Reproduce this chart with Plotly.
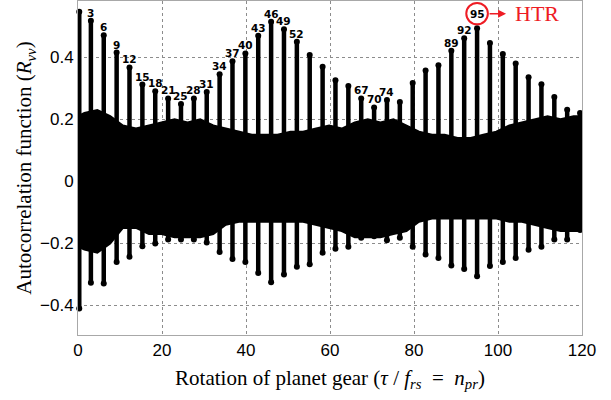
import plotly.graph_objects as go

# ---- data ----
peak_x = [0.3, 3.07, 6.13, 9.2, 12.26, 15.33, 18.39, 21.46, 24.52, 27.59,
          30.65, 33.72, 36.78, 39.85, 42.91, 45.98, 49.04, 52.11, 55.17, 58.24,
          61.3, 64.37, 67.43, 70.5, 73.56, 76.63, 79.69, 82.76, 85.82, 88.89,
          91.95, 95.02, 98.08, 101.15, 104.21, 107.28, 110.34, 113.41, 116.47, 119.54]
peak_hi = [0.546, 0.517, 0.471, 0.415, 0.367, 0.312, 0.29, 0.267, 0.249, 0.267,
           0.288, 0.345, 0.387, 0.412, 0.469, 0.514, 0.49, 0.45, 0.407, 0.369,
           0.326, 0.307, 0.267, 0.238, 0.262, 0.256, 0.317, 0.357, 0.374, 0.421,
           0.461, 0.493, 0.446, 0.41, 0.38, 0.335, 0.313, 0.272, 0.231, 0.22]
peak_lo = [-0.41, -0.327, -0.329, -0.26, -0.243, -0.209, -0.2, -0.187, -0.187, -0.187,
           -0.197, -0.228, -0.25, -0.26, -0.295, -0.325, -0.3, -0.275, -0.267, -0.23,
           -0.217, -0.211, -0.182, -0.177, -0.19, -0.182, -0.211, -0.236, -0.247, -0.271,
           -0.282, -0.306, -0.273, -0.26, -0.247, -0.22, -0.211, -0.187, -0.187, -0.157]

band_x = [0.0, 1.53, 4.6, 7.66, 10.7, 13.8, 16.9, 19.9, 23.0, 26.1, 29.1, 32.2,
          35.2, 38.3, 41.4, 44.4, 47.5, 50.6, 53.6, 56.7, 59.8, 62.8, 65.9, 69.0,
          72.0, 75.1, 78.2, 81.2, 84.3, 87.3, 90.4, 93.5, 96.5, 99.6, 102.7, 105.7,
          108.8, 111.8, 114.9, 118.0, 120.0]
band_hi = [0.21, 0.22, 0.23, 0.21, 0.18, 0.17, 0.18, 0.19, 0.2, 0.19, 0.2, 0.18,
           0.17, 0.16, 0.15, 0.15, 0.15, 0.16, 0.16, 0.17, 0.18, 0.17, 0.19, 0.2,
           0.19, 0.2, 0.18, 0.16, 0.15, 0.15, 0.14, 0.14, 0.15, 0.16, 0.18, 0.19,
           0.2, 0.21, 0.2, 0.21, 0.21]
band_lo = [-0.21, -0.22, -0.23, -0.2, -0.15, -0.15, -0.17, -0.17, -0.18, -0.18, -0.18, -0.17,
           -0.14, -0.13, -0.13, -0.13, -0.13, -0.13, -0.13, -0.14, -0.15, -0.16, -0.18, -0.18,
           -0.18, -0.17, -0.16, -0.13, -0.12, -0.12, -0.12, -0.12, -0.12, -0.12, -0.13, -0.13,
           -0.14, -0.15, -0.16, -0.16, -0.16]

label_vals = [3, 6, 9, 12, 15, 18, 21, 25, 28, 31, 34, 37, 40, 43, 46, 49, 52,
              67, 70, 74, 89, 92, 95]
highlight_val = 95
highlight_text = "HTR"

x_ticks = [0, 20, 40, 60, 80, 100, 120]
y_ticks = [-0.4, -0.2, 0, 0.2, 0.4]
y_tick_text = ["\u22120.4", "\u22120.2", "0", "0.2", "0.4"]

# ---- figure ----
fig = go.Figure()

fig.add_trace(go.Scatter(
    x=band_x + band_x[::-1], y=band_hi + band_lo[::-1],
    fill="toself", fillcolor="black", mode="lines",
    line=dict(color="black", width=2), hoverinfo="skip", showlegend=False))

sx, sy = [], []
for xi, lo, hi in zip(peak_x, peak_lo, peak_hi):
    sx += [xi, xi, None]
    sy += [lo, hi, None]
fig.add_trace(go.Scatter(x=sx, y=sy, mode="lines",
                         line=dict(color="black", width=4.5),
                         hoverinfo="skip", showlegend=False))
fig.add_trace(go.Scatter(x=peak_x + peak_x, y=peak_hi + peak_lo, mode="markers",
                         marker=dict(color="black", size=6),
                         cliponaxis=False, hoverinfo="skip", showlegend=False))

lab_font = dict(family="DejaVu Sans", size=10.5, color="black", weight="bold")
ann = []
for v in label_vals:
    k = min(range(len(peak_x)), key=lambda i: abs(peak_x[i] - v))
    if v == highlight_val:
        hk = k
        ann.append(dict(x=peak_x[k], y=peak_hi[k], text=str(v), showarrow=False,
                        xanchor="center", yanchor="middle", yshift=14.5,
                        borderpad=0, font=lab_font))
    else:
        ann.append(dict(x=peak_x[k], y=peak_hi[k], text=str(v), showarrow=False,
                        xanchor="center", yanchor="bottom", yshift=1.0,
                        borderpad=0, font=lab_font))

red = "#ee1c24"
fig.add_shape(type="circle", xref="x", yref="y", xsizemode="pixel", ysizemode="pixel",
              xanchor=peak_x[hk], yanchor=peak_hi[hk], x0=-10.8, x1=10.8, y0=4.0, y1=25.4,
              line=dict(color=red, width=2))
ann.append(dict(x=peak_x[hk] + 6.9, y=peak_hi[hk], yshift=14.5, ax=-18, ay=0, text="",
                showarrow=True, arrowhead=2, arrowsize=1, arrowwidth=1.6, arrowcolor=red))
ann.append(dict(x=peak_x[hk] + 14.2, y=peak_hi[hk], yshift=14.5, text=highlight_text,
                showarrow=False, xanchor="center", yanchor="middle",
                font=dict(family="Liberation Serif", size=22, color=red)))

axis_common = dict(showline=True, linecolor="#a8a8a8", linewidth=1, mirror=True,
                   showgrid=True, gridcolor="#8c8c8c", griddash="dot", gridwidth=1,
                   zeroline=False, ticks="",
                   tickfont=dict(family="Liberation Sans", size=17, color="black"))

nb = "\u00a0"
xtitle = ("Rotation of planet gear (<i>τ</i>" + nb + "/" + nb + "<i>f</i><sub><i>rs</i></sub>"
          + nb + nb + "=" + nb + nb + "<i>n</i><sub><i>pr</i></sub>)")
ytitle = "Autocorrelation function (<i>R</i><sub><i>vv</i></sub>)"

fig.update_layout(
    width=611, height=400,
    margin=dict(l=78, r=29, t=1, b=65),
    plot_bgcolor="white", paper_bgcolor="white",
    showlegend=False,
    annotations=ann,
    xaxis=dict(range=[0, 120], tickvals=x_ticks,
               title=dict(text=xtitle,
                          font=dict(family="Liberation Serif", size=21, color="black"),
                          standoff=10),
               **axis_common),
    yaxis=dict(range=[-0.495, 0.581], tickvals=y_ticks, ticktext=y_tick_text,
               title=dict(text=ytitle,
                          font=dict(family="Liberation Serif", size=21, color="black"),
                          standoff=2),
               **axis_common),
)

fig.write_html("out.html", config={"displayModeBar": False},
               post_script="document.body.style.margin='0px';")
